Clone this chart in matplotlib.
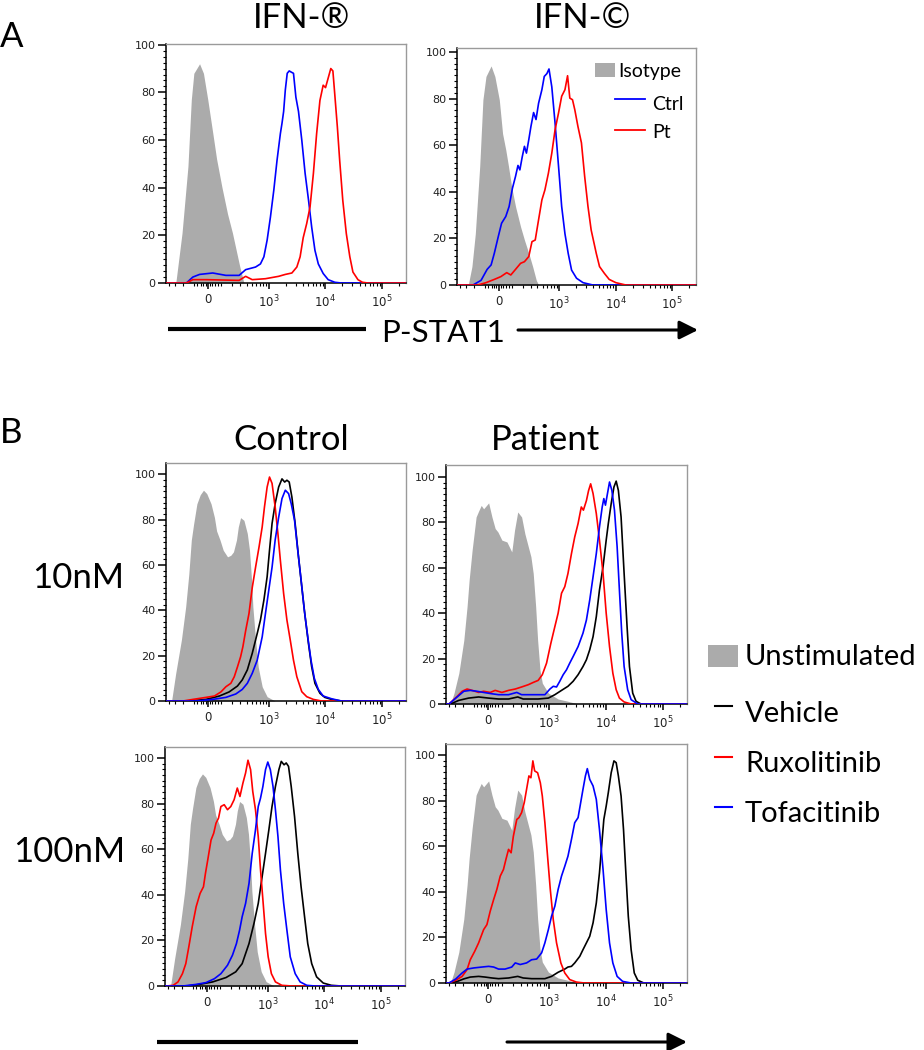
import numpy as np
import matplotlib
matplotlib.use("Agg")
import matplotlib.pyplot as plt
from matplotlib.lines import Line2D
from matplotlib.patches import Rectangle, FancyArrowPatch

plt.rcParams["font.family"] = ["DejaVu Sans"]
LABEL_FONT = ["Lato", "DejaVu Sans"]

W, H = 924, 1050
COFACTOR = 172.0          # arcsinh cofactor of the biexponential axis
XMIN, XMAX = -450, 262144

GREY = "#ababab"
BLUE = "#0000ff"
RED = "#ff0000"
BLACK = "#000000"

# ---- Panel A, IFN-(R): isotype / ctrl / patient, % of max vs P-STAT1 ----
A1_ISO_X = [-290, -213, -153, -123, -102, -58, -30, 0, 35, 63, 105, 153, 202, 256, 290, 352]
A1_ISO_Y = [0, 21, 49, 77, 88, 92, 88, 77, 63, 52, 40, 29, 21, 12, 7, 0]
A1_CTRL_X = [-168, -110, -58, 35, 138, 282, 380, 583, 715, 825, 943, 1080, 1240, 1414, 1620,
             1730, 1850, 1980, 2140, 2320, 2520, 2760, 3040, 3380, 3861, 4420, 5060, 5763,
             6580, 7540, 9180, 11240, 14700, 19180]
A1_CTRL_Y = [0, 2.5, 3.6, 4.2, 3.2, 3.2, 5.6, 6.7, 8, 11, 18, 27.7, 39, 51.5, 62.7,
             67, 72, 81, 88, 89, 88.5, 88, 78, 72, 60, 46, 35, 23.5,
             13.7, 8, 4, 1.4, 0.3, 0]
A1_PT_X = [-168, -110, -12, 282, 380, 506, 880, 1510, 1980, 2585, 3160, 3610, 4090, 4718,
           5400, 6180, 7045, 8050, 9180, 10100, 11240, 12500, 13600, 14700, 16300, 17900,
           20300, 23430, 27000, 30600, 37500, 45000, 56000]
A1_PT_Y = [0, 1.4, 1.4, 1.1, 2.8, 1.4, 1.8, 2.8, 3.6, 4.2, 6.7, 11, 19, 25,
           32, 46, 62.7, 76.6, 83, 82, 86, 90, 89, 79, 65.5, 51.5,
           34.7, 20.7, 11, 4.6, 1.4, 0.3, 0]

# ---- Panel A, IFN-(C) ----
A2_ISO_X = [-270, -225, -188, -145, -117, -92, -53, -26, 5, 28, 51, 71, 96, 128, 175, 216,
            268, 322, 380, 420]
A2_ISO_Y = [0, 7.9, 22, 51, 79.5, 89.5, 94, 89.5, 79.5, 65, 58, 51, 42, 33.7, 25, 19.3,
            13.6, 7.9, 2, 0]
A2_CTRL_X = [-213, -133, -83, -53, -30, -2, 21, 51, 76, 102, 128, 150, 168, 192, 216, 239,
             268, 297, 336, 375, 420, 485, 537, 600, 656, 738, 845, 975, 1110, 1270, 1450,
             1665, 2040, 2660, 3960]
A2_CTRL_Y = [0, 2, 6.7, 8.6, 13.6, 20.8, 26.5, 29.4, 33.7, 41.5, 46.6, 51.3, 49.4, 55, 59.5, 56.6,
             62.3, 68, 74, 71, 78, 83.8, 89.5, 90.7, 92.7, 85, 69.5, 51, 33.7, 22, 13.6,
             6.4, 2.9, 1, 0]
A2_PT_X = [-162, -92, -30, 16, 58, 89, 128, 175, 216, 268, 312, 362, 420, 485, 552, 640, 738,
           845, 975, 1110, 1270, 1414, 1550, 1730, 1900, 2160, 2490, 2840, 3250, 3700, 4550,
           5200, 6330, 7700, 10100, 15100]
A2_PT_Y = [0, 1, 2.4, 3.6, 5.3, 4.3, 6.7, 9.3, 10, 12.2, 18.6, 19.3, 28, 36.5, 40.8, 48, 56.6,
           66.6, 73.8, 81, 83.8, 89.8, 80.2, 79.5, 75.2, 68, 61, 46.6, 33.7, 23.6, 13.6,
           7.9, 5, 2.4, 1, 0]

# ---- Panel B, unstimulated controls (same in both rows) ----
GRAY_CTRL_X = [-352, -292, -220, -175, -145, -123, -104, -78, -53, -30, -7, 23, 47, 63, 89, 115,
               153, 185, 213, 248, 271, 302, 352, 409, 450, 492, 520, 583, 652, 769, 943, 1310]
GRAY_CTRL_Y = [0, 12, 27, 41.5, 56, 71, 78, 87, 91, 93, 91.5, 87, 81, 75, 71, 66.5,
               63.6, 64.3, 65.8, 71, 76.8, 80.9, 79.7, 73.9, 66.5, 53.3, 41.5, 27, 15, 6.3, 1.9, 0]
GRAY_PT_X = [-370, -315, -251, -195, -162, -143, -117, -85, -66, -47, -30, 5, 28, 51, 71, 102,
             145, 192, 222, 260, 312, 362, 471, 520, 576, 625, 690, 760, 975, 1450, 2160, 3250]
GRAY_PT_Y = [0, 4.8, 13.6, 28, 43, 54.6, 67.8, 82.4, 85, 87.5, 86, 88.6, 82.4, 77.3, 75.8, 72.2,
             71.4, 67, 76.6, 84.6, 82.4, 75, 64.9, 57.5, 43, 28.3, 15, 9.2, 4.8, 2.2, 1.2, 0]

# ---- Panel B, control 10nM ----
C10_VEH_X = [-139, -12, 84, 168, 260, 326, 409, 506, 625, 715, 825, 943, 1040, 1154, 1310, 1510,
             1730, 1930, 2114, 2320, 2585, 2950, 3380, 3861, 4420, 5060, 5763, 6580, 8050, 9800,
             12850, 19180]
C10_VEH_Y = [0, 0.7, 2.2, 4, 6.6, 9.3, 13.7, 21, 29.8, 35.7, 44.5, 54.8, 66.5, 78.3, 87.1, 94.4,
             98, 96.6, 97.4, 96.6, 90, 78.3, 63.6, 50.4, 37.2, 25.4, 15.1, 7.8, 3.4, 1.6,
             0.7, 0]
C10_RUX_X = [-202, -110, -12, 47, 96, 138, 185, 222, 260, 302, 336, 380, 440, 506, 583, 675, 769,
             845, 943, 1040, 1154, 1310, 1465, 1620, 1850, 2114, 2420, 2760, 3160, 3861, 4718,
             6180, 8600]
C10_RUX_Y = [0, 0.7, 1.6, 2.2, 4, 6.3, 7.8, 10.7, 15, 19.5, 24, 31, 38.6, 50, 59, 68, 76.8,
             85.6, 94.4, 98.8, 96, 85.6, 73.9, 62, 47.4, 35.7, 26.9, 18, 10.7, 4.1, 1.9,
             0.7, 0]
C10_TOF_X = [-83, 35, 138, 240, 326, 409, 506, 625, 769, 880, 1010, 1154, 1310, 1510, 1730, 1980,
             2260, 2520, 2880, 3280, 3760, 4280, 4920, 5610, 6420, 7540, 9180, 12850, 19180]
C10_TOF_Y = [0, 0.7, 1.6, 3.1, 5.1, 7.8, 12.2, 18, 28.3, 38.6, 49, 59, 71, 81, 89.3, 93,
             91.5, 87, 79.7, 66.5, 53.3, 40, 28.3, 18, 10, 5.1, 2.2, 1, 0]

# ---- Panel B, patient 10nM ----
P10_VEH_X = [-370, -251, -148, -66, 5, 76, 160, 260, 336, 640, 975, 1270, 1665, 2160, 2660, 3250,
             3960, 4550, 5200, 5950, 6780, 7700, 8900, 10100, 11000, 12350, 13800, 15100, 16500,
             18400, 20800, 23430, 25800, 29400, 33600, 41000]
P10_VEH_Y = [0, 1.6, 2.6, 3.1, 2.6, 2.2, 2.2, 3.1, 2.2, 2.2, 2.6, 4.1, 6, 7.8, 10, 12.9,
             16.5, 19.5, 23.9, 29.7, 38.5, 50.2, 60.5, 72.2, 79.5, 88.3, 95.6, 98.2, 94.1,
             82.4, 57.5, 34.1, 16.5, 4.8, 1.2, 0]
P10_RUX_X = [-395, -270, -213, -162, -117, -66, -30, 16, 51, 102, 160, 230, 312, 420, 520, 640,
             760, 905, 1080, 1270, 1450, 1665, 1900, 2160, 2490, 2840, 3250, 3700, 4030, 4550,
             4960, 5400, 5950, 6780, 7700, 8900, 10100, 11550, 13200, 15100, 17200, 20800, 27600]
P10_RUX_Y = [0, 3.4, 5.6, 6.6, 6, 5.1, 5.6, 5.1, 6, 5.1, 6, 6.6, 7.5, 8.5, 9.5, 10.4,
             12.9, 18, 26.8, 34.1, 40, 48.8, 51.7, 57.5, 66.3, 73.6, 79.5, 86.8, 85.4, 89.6,
             94, 97, 92.7, 83.9, 72.2, 57.5, 40, 25.3, 13.6, 6.3, 2.6, 0.9, 0]
P10_TOF_X = [-395, -290, -195, -133, -78, -30, 28, 76, 160, 248, 312, 485, 845, 1040, 1190, 1360,
             1550, 1780, 2040, 2320, 2660, 3250, 3960, 4550, 5200, 5950, 6780, 7700, 8600, 9180,
             9800, 10510, 11550, 12700, 14100, 15690, 17200, 18900, 20800, 24000, 27600, 36000]
P10_TOF_Y = [0, 2.6, 5.6, 6, 5.6, 5.1, 4.5, 4.1, 4.1, 5.1, 4.1, 4.1, 4.1, 6.6, 7.8, 7.5,
             10, 12.9, 15.1, 18, 20.9, 25.3, 31.2, 37, 45.8, 56.1, 66.3, 78, 86.8, 90.5,
             87.6, 92, 97.8, 94.1, 85.4, 69.3, 50.2, 31.2, 16.5, 6.3, 1.9, 0]

# ---- Panel B, control 100nM ----
C100_VEH_X = [-158, -51, 42, 148, 251, 340, 460, 568, 680, 800, 920, 1055, 1200, 1380, 1590,
              1750, 1960, 2140, 2350, 2620, 3000, 3420, 3910, 4500, 5120, 6010, 7330, 9580,
              13300, 19900]
C100_VEH_Y = [0, 0.7, 1.8, 3.7, 6.2, 9.8, 18.6, 27.4, 36.2, 48, 58.2, 68.5, 78.7, 87.5, 94.9,
              98.5, 97, 97.8, 96.3, 87.5, 74.3, 58.2, 43.5, 30.4, 18.6, 9.8, 4, 1.3,
              0.3, 0]
C100_RUX_X = [-420, -312, -248, -198, -164, -136, -107, -76, -47, -23, -9, 7, 30, 49, 66, 85,
              104, 132, 162, 195, 232, 271, 307, 352, 396, 440, 492, 540, 606, 680, 748, 835,
              920, 1025, 1170, 1380, 1790, 2690]
C100_RUX_Y = [0, 0.3, 1.8, 5.4, 9.8, 17.2, 26, 34.8, 40.6, 43.5, 49.4, 55.3, 64, 67, 71.4, 73.6,
              78.7, 79.5, 77.3, 78.7, 81.7, 86.8, 83.1, 89, 93.4, 99, 94.9, 85.3, 77.3, 65.5,
              50.9, 36.2, 23, 12.8, 5.4, 1.8, 0.3, 0]
C100_TOF_X = [-192, -76, -5, 54, 104, 162, 213, 260, 302, 340, 396, 460, 528, 606, 680, 748,
              825, 920, 1010, 1120, 1250, 1380, 1530, 1690, 1930, 2200, 2520, 3080, 3760, 4920,
              6850]
C100_TOF_Y = [0, 0.7, 1.5, 3.2, 5.4, 9.1, 13.5, 18.6, 24.5, 30.4, 36.2, 45, 58.2, 68.5, 78.7,
              82.4, 87.5, 94.9, 98.2, 94.9, 87.5, 77.3, 65.5, 50.9, 36.2, 24.5, 12.8, 5.4, 1.8,
              0.3, 0]

# ---- Panel B, patient 100nM ----
P100_VEH_X = [-395, -270, -195, -133, -66, -19, 28, 76, 160, 260, 336, 485, 845, 1110, 1450,
              1900, 2160, 2490, 2840, 3480, 3960, 4550, 5200, 5950, 6780, 7700, 8500, 9180,
              10100, 11000, 12350, 13800, 15100, 16500, 18400, 20300, 22300, 24600, 27600,
              31300, 36000, 46000]
P100_VEH_Y = [0, 0.7, 1.8, 2.6, 2.9, 2.6, 2.2, 1.9, 2.2, 2.9, 2.2, 1.9, 1.9, 2.9, 4.7,
              6.1, 7, 7.3, 8.8, 11.7, 14.6, 17.6, 20.5, 26.4, 35.1, 48.3, 61.5, 71.7,
              77.6, 83.5, 92.2, 97.4, 96.6, 90.8, 82, 67.3, 48.3, 29.3, 14.6,
              4.4, 1.2, 0]
P100_RUX_X = [-395, -290, -213, -162, -133, -96, -66, -30, -7, 16, 40, 63, 89, 115, 136, 160,
              185, 209, 248, 275, 312, 352, 390, 432, 471, 512, 552, 625, 700, 760, 845, 943,
              1055, 1190, 1360, 1620, 1900, 2320, 3040, 4200]
P100_RUX_Y = [0, 1.2, 2.9, 5.9, 10.2, 13.9, 17.6, 23.4, 25.6, 31.5, 36.6, 41, 46.9, 49.8, 54.2,
              58.6, 57.1, 64.4, 71.7, 72.5, 74.7, 79.1, 84.9, 90.8, 90, 97.4, 93, 92.2, 87.8,
              82, 70.3, 55.6, 41, 27.8, 17.6, 8.8, 4.4, 1.5, 0.4, 0]
P100_TOF_X = [-395, -290, -213, -162, -104, -42, 5, 40, 76, 128, 192, 230, 292, 390, 485, 600,
              738, 845, 975, 1110, 1270, 1450, 1665, 1900, 2160, 2490, 2840, 3250, 3610, 3960,
              4370, 4718, 5200, 5950, 6780, 7700, 8900, 10100, 11550, 13200, 15690, 19600, 27600]
P100_TOF_Y = [0, 1.8, 4.4, 6.1, 6.6, 7, 7.3, 7, 6.1, 6.1, 7, 8.8, 8.1, 8.8, 10.2, 10.5,
              13.2, 17.6, 23.4, 29.3, 33.7, 41, 46.9, 51.2, 55.6, 63, 70.3, 72.5, 79.1, 84.9,
              90.8, 94, 89.3, 86.4, 80.5, 67.3, 49.8, 32.2, 17.6, 8.8, 2.9, 0.7, 0]

X_TICKS = [0, 1e3, 1e4, 1e5]
X_TICK_LABELS = ["0", r"$10^{3}$", r"$10^{4}$", r"$10^{5}$"]


def fwd(x):
    return np.arcsinh(np.asarray(x, dtype=float) / COFACTOR)


def inv(y):
    return COFACTOR * np.sinh(np.asarray(y, dtype=float))


def fx(px):
    return px / W


def fy(py):
    return 1 - py / H


def add_panel(fig, box, ytop):
    left, top, right, bottom = box
    ax = fig.add_axes([fx(left), fy(bottom), (right - left) / W, (bottom - top) / H])
    ax.set_xscale("function", functions=(fwd, inv))
    ax.set_xlim(XMIN, XMAX)
    ax.set_ylim(0, ytop)

    ax.set_xticks(X_TICKS)
    ax.set_xticklabels(X_TICK_LABELS)
    minor = [-400, -300, -200, -100, -75, -50, -30, -15, 15, 30, 50, 75]
    minor += [k * 10 ** e for e in (2, 3, 4) for k in range(1 if e == 2 else 2, 10)] + [2e5]
    ax.set_xticks(minor, minor=True)
    ax.set_yticks(range(0, 101, 20))
    ax.set_yticks(np.arange(0, 101, 2.5), minor=True)

    ax.tick_params(axis="x", which="major", direction="out", length=4.5, width=1.1,
                   labelsize=8.5, labelcolor="#222222", pad=3)
    ax.tick_params(axis="x", which="minor", direction="out", length=2.2, width=0.8)
    ax.tick_params(axis="y", which="major", direction="out", length=5.5, width=1.1,
                   labelsize=8, labelcolor="#222222", pad=2)
    ax.tick_params(axis="y", which="minor", direction="out", length=2.5, width=0.8)

    for side in ("top", "right"):
        ax.spines[side].set_color("#9a9a9a")
        ax.spines[side].set_linewidth(1.0)
    for side in ("left", "bottom"):
        ax.spines[side].set_color("black")
        ax.spines[side].set_linewidth(1.1)
    return ax


def fill_hist(ax, xs, ys):
    ax.fill_between(xs, ys, 0, color=GREY, lw=0, zorder=1)


def line_hist(ax, xs, ys, color):
    ax.plot([XMIN] + xs + [XMAX], [0] + ys + [0], color=color, lw=1.2, zorder=3,
            solid_joinstyle="round")


fig = plt.figure(figsize=(W / 100, H / 100), dpi=100)
fig.patch.set_facecolor("white")

# ---- panel A ----
ax = add_panel(fig, (166, 44, 406, 283), 100.3)
fill_hist(ax, A1_ISO_X, A1_ISO_Y)
line_hist(ax, A1_CTRL_X, A1_CTRL_Y, BLUE)
line_hist(ax, A1_PT_X, A1_PT_Y, RED)

ax = add_panel(fig, (457, 48, 696, 285), 101.7)
fill_hist(ax, A2_ISO_X, A2_ISO_Y)
line_hist(ax, A2_CTRL_X, A2_CTRL_Y, BLUE)
line_hist(ax, A2_PT_X, A2_PT_Y, RED)

# ---- panel B ----
panels_b = [
    ((166, 463, 406, 701), 105.0, (GRAY_CTRL_X, GRAY_CTRL_Y),
     [(C10_VEH_X, C10_VEH_Y, BLACK), (C10_RUX_X, C10_RUX_Y, RED), (C10_TOF_X, C10_TOF_Y, BLUE)]),
    ((446, 465, 687, 704), 105.3, (GRAY_PT_X, GRAY_PT_Y),
     [(P10_VEH_X, P10_VEH_Y, BLACK), (P10_RUX_X, P10_RUX_Y, RED), (P10_TOF_X, P10_TOF_Y, BLUE)]),
    ((165, 747, 405, 986), 104.8, (GRAY_CTRL_X, GRAY_CTRL_Y),
     [(C100_VEH_X, C100_VEH_Y, BLACK), (C100_RUX_X, C100_RUX_Y, RED), (C100_TOF_X, C100_TOF_Y, BLUE)]),
    ((446, 744, 687, 983), 104.8, (GRAY_PT_X, GRAY_PT_Y),
     [(P100_VEH_X, P100_VEH_Y, BLACK), (P100_RUX_X, P100_RUX_Y, RED), (P100_TOF_X, P100_TOF_Y, BLUE)]),
]
for box, ytop, gray, lines in panels_b:
    ax = add_panel(fig, box, ytop)
    fill_hist(ax, *gray)
    for xs, ys, col in lines:
        line_hist(ax, xs, ys, col)

# ---- labels ----
big = dict(family=LABEL_FONT, fontsize=25, va="baseline", color="black")
fig.text(fx(0), fy(47), "A", ha="left", **big)
fig.text(fx(302), fy(28), "IFN-®", ha="center", **big)
fig.text(fx(583), fy(28), "IFN-©", ha="center", **big)
fig.text(fx(0), fy(443), "B", ha="left", **big)
fig.text(fx(291), fy(450), "Control", ha="center", **big)
fig.text(fx(546), fy(450), "Patient", ha="center", **big)
fig.text(fx(124), fy(588), "10nM", ha="right", **big)
fig.text(fx(125), fy(862), "100nM", ha="right", **big)
fig.text(fx(443), fy(342), "P-STAT1", ha="center", family=LABEL_FONT, fontsize=22.5,
         va="baseline", color="black")

# axis bars and arrows
for x0, x1, y in [(168, 366, 329), (157, 358, 1042)]:
    fig.add_artist(Line2D([fx(x0), fx(x1)], [fy(y), fy(y)], color="black", lw=3.0,
                          solid_capstyle="butt", transform=fig.transFigure))
for x0, x1, y in [(518, 698, 330), (507, 687, 1042)]:
    fig.add_artist(FancyArrowPatch((fx(x0), fy(y)), (fx(x1), fy(y)), transform=fig.transFigure,
                                   arrowstyle="-|>,head_length=0.8,head_width=0.4",
                                   mutation_scale=14, lw=2.2, color="black",
                                   shrinkA=0, shrinkB=0))

# legend for panel A (inside the IFN-(C) plot)
small = dict(family=LABEL_FONT, fontsize=14, va="baseline", ha="left", color="black")
fig.add_artist(Rectangle((fx(595), fy(77)), 20 / W, 14 / H, color=GREY, lw=0,
                         transform=fig.transFigure))
fig.text(fx(618), fy(77.5), "Isotype", **small)
for y, col, name, base in [(99.3, BLUE, "Ctrl", 110), (130, RED, "Pt", 137.5)]:
    fig.add_artist(Line2D([fx(615), fx(645)], [fy(y), fy(y)], color=col, lw=1.3,
                          transform=fig.transFigure))
    fig.text(fx(652), fy(base), name, **small)

# legend for panel B
mid = dict(family=LABEL_FONT, fontsize=21, va="baseline", ha="left", color="black")
fig.add_artist(Rectangle((fx(708), fy(667)), 30 / W, 22 / H, color=GREY, lw=0,
                         transform=fig.transFigure))
fig.text(fx(745), fy(665), "Unstimulated", **mid)
for y, col, name, base in [(706, BLACK, "Vehicle", 722), (757, RED, "Ruxolitinib", 772),
                           (807, BLUE, "Tofacitinib", 822)]:
    fig.add_artist(Line2D([fx(715), fx(732)], [fy(y), fy(y)], color=col, lw=1.5,
                          transform=fig.transFigure))
    fig.text(fx(745), fy(base), name, **mid)

fig.savefig("out.png", dpi=100, facecolor="white")
